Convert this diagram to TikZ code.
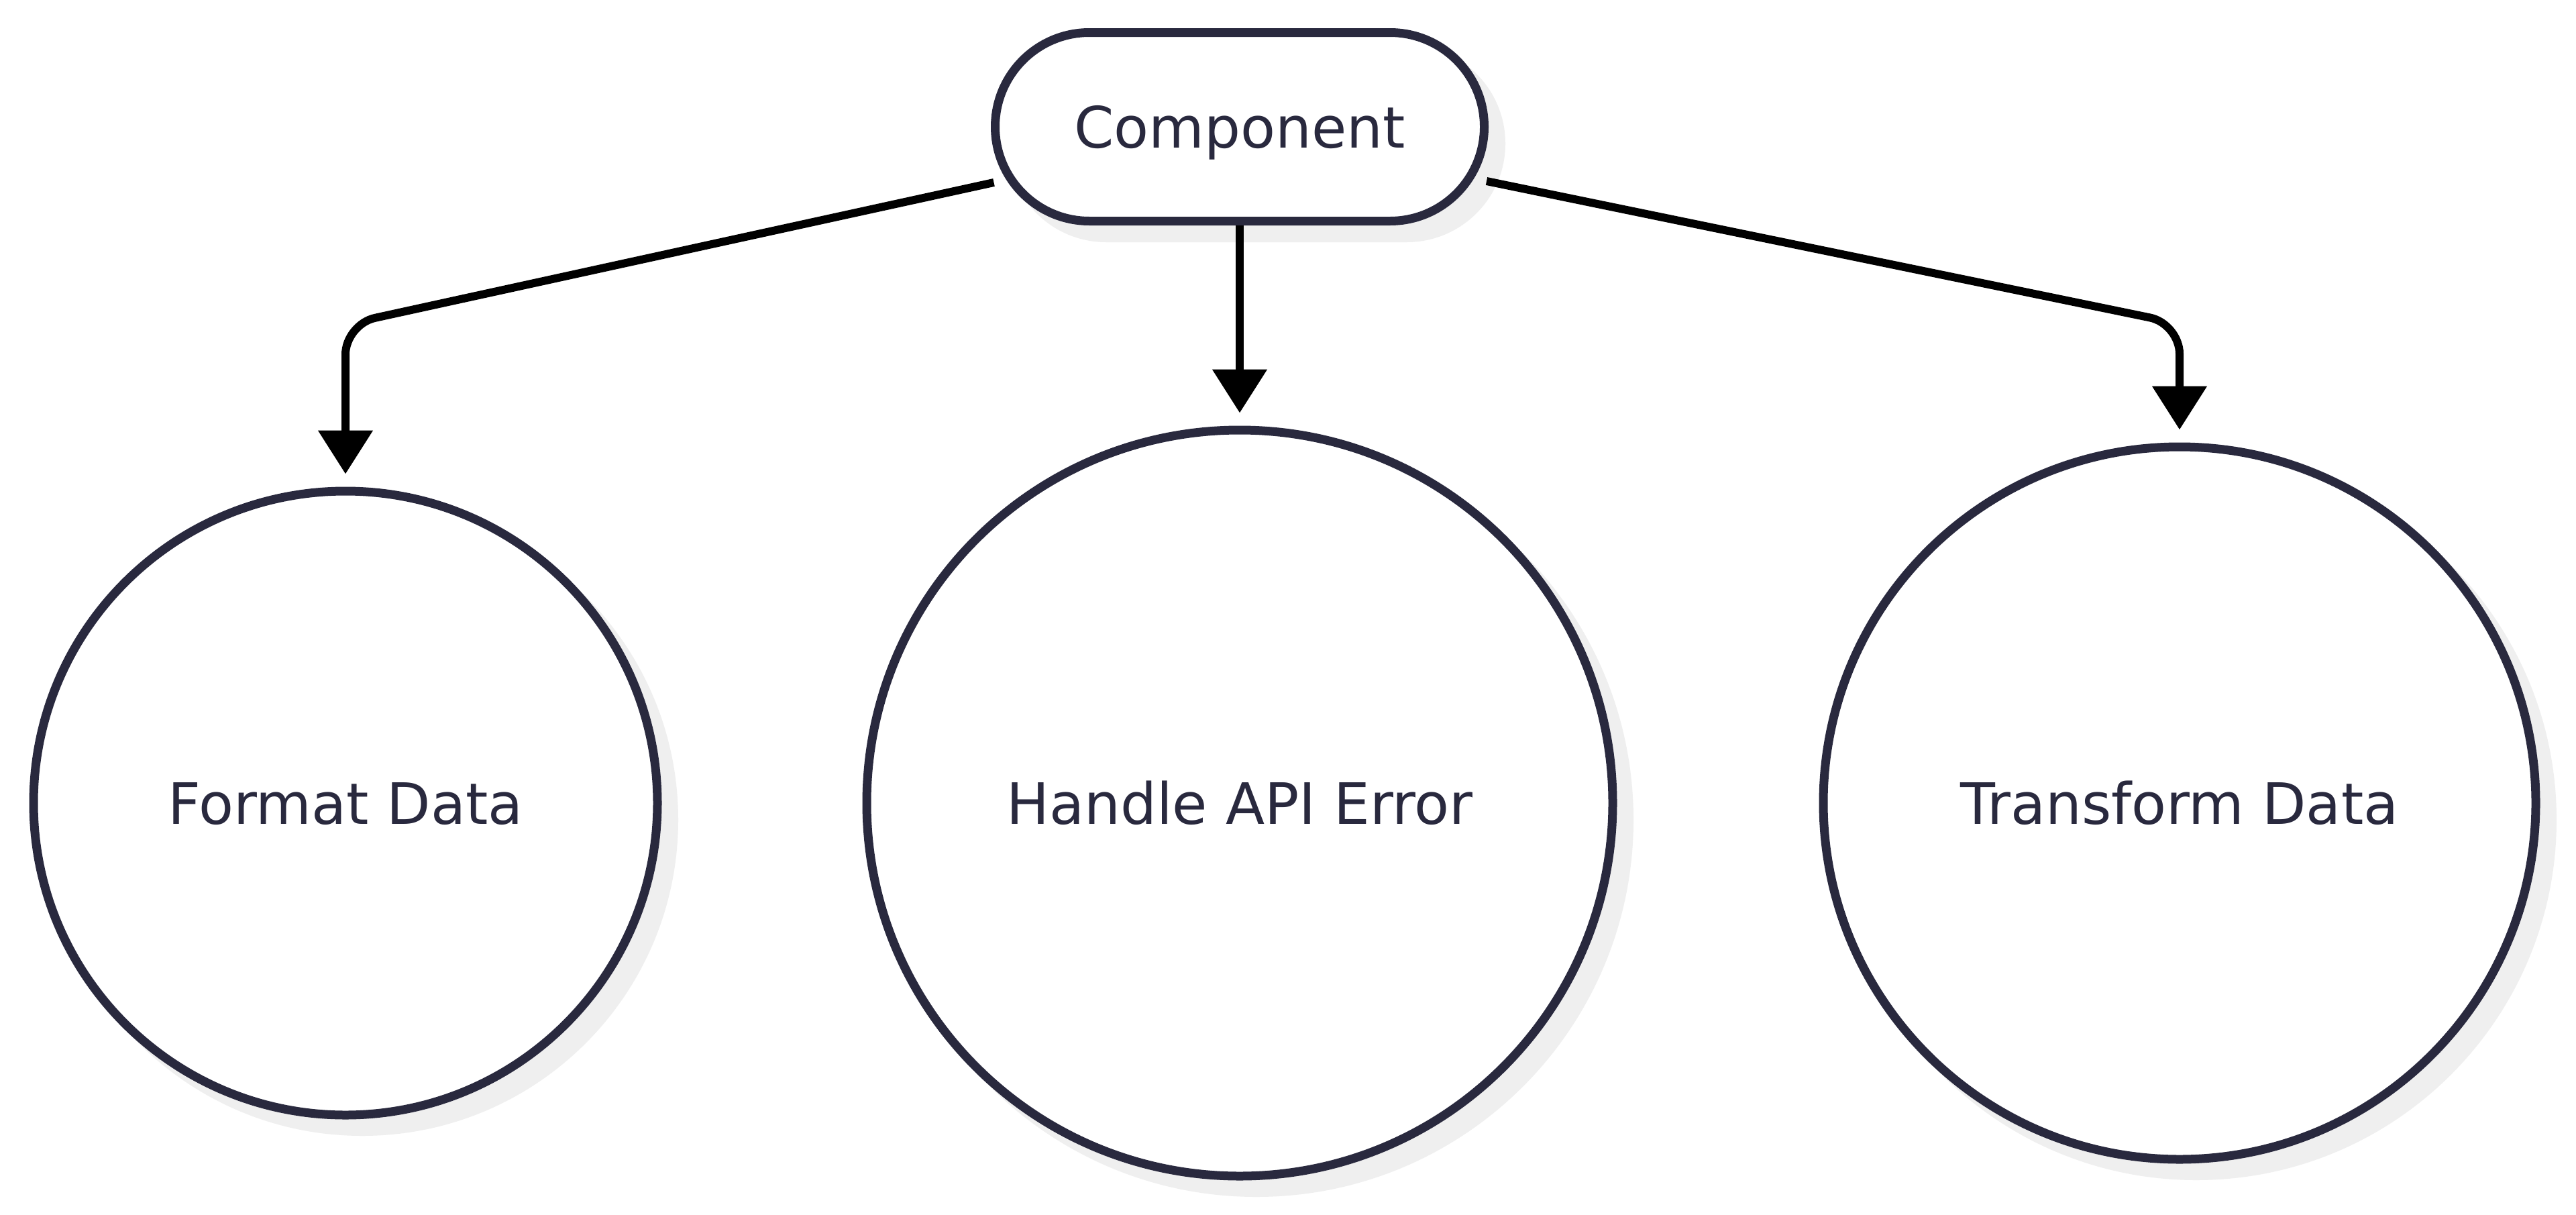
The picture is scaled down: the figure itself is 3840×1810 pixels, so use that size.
\documentclass[tikz,border=0pt]{standalone}
\usepackage{fontspec}
\setmainfont{DejaVu Sans}
\usetikzlibrary{arrows.meta,calc,backgrounds}
\definecolor{ink}{HTML}{29293E}
\definecolor{shadowgray}{HTML}{EFEFEF}
\tikzset{
  pill/.style={draw=ink, line width=13pt, fill=white, rounded corners=140.5pt,
    minimum width=729pt, minimum height=281pt, text=ink,
    font=\fontsize{85}{100}\selectfont, text height=62pt, text depth=0pt},
  circ/.style={circle, draw=ink, line width=13pt, fill=white, text=ink,
    font=\fontsize{85}{100}\selectfont, text height=62pt, text depth=0pt},
  conn/.style={draw=black, line width=12pt, rounded corners=45pt,
    -{Triangle[length=65pt, width=79pt]}},
  shadowfill/.style={fill=shadowgray}
}
\begin{document}
\begin{tikzpicture}[x=1pt,y=-1pt]
\useasboundingbox (0,0) rectangle (3840,1810);
\node[pill] (comp) at (1848,189) {Component};
\node[circ, minimum size=930pt] (fmt) at (515,1197) {Format Data};
\node[circ, minimum size=1112pt] (hae) at (1848,1197) {Handle API Error};
\node[circ, minimum size=1062pt] (tfd) at (3249,1197) {Transform Data};
\begin{scope}[on background layer]
  \fill[white] (0,0) rectangle (3840,1810);
  \fill[shadowfill, rounded corners=147pt] ($(comp.south west)+(25,25)$) rectangle ($(comp.north east)+(25,25)$);
  \fill[shadowfill] ($(fmt.center)+(25,25)$) circle[radius=471pt];
  \fill[shadowfill] ($(hae.center)+(25,25)$) circle[radius=562pt];
  \fill[shadowfill] ($(tfd.center)+(25,25)$) circle[radius=537pt];
\end{scope}
\coordinate (ls) at ($(comp.west)+(4.5,83)$);
\coordinate (rs) at ($(comp.east)+(-3,81)$);
\draw[conn] (ls) -- ($(fmt.north)+(0,-242)$) -- ($(fmt.north)+(0,-19)$);
\draw[conn] (comp.south) -- ($(hae.north)+(0,-19)$);
\draw[conn] (rs) -- ($(tfd.north)+(0,-177)$) -- ($(tfd.north)+(0,-19)$);
\end{tikzpicture}
\end{document}
